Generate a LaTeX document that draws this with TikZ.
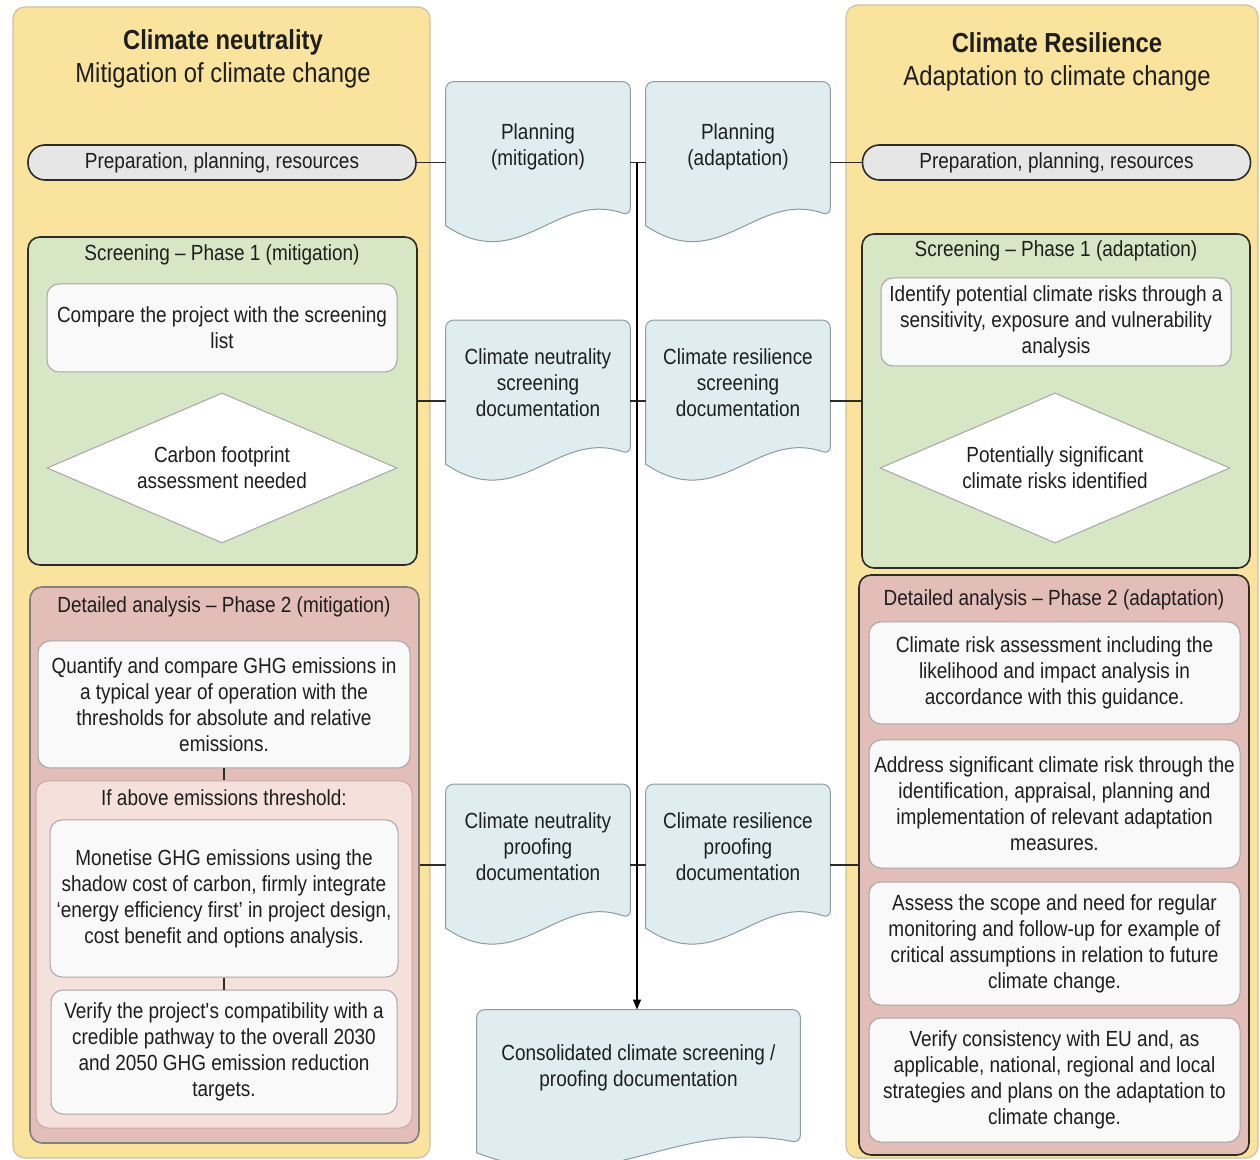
\documentclass[tikz,border=0pt]{standalone}
\usepackage{fontspec}
\setmainfont{Liberation Sans}[FakeStretch=0.866]
\usetikzlibrary{shapes.geometric,arrows.meta,calc,backgrounds}
\definecolor{panelyellow}{HTML}{F9E39D}
\definecolor{panelline}{HTML}{CBC2A2}
\definecolor{prepgray}{HTML}{E6E6E6}
\definecolor{darkline}{HTML}{2B2B2B}
\definecolor{screengreen}{HTML}{D7E6C5}
\definecolor{analysispink}{HTML}{E3BDB7}
\definecolor{subpink}{HTML}{F5E0DC}
\definecolor{subline}{HTML}{C9A9A4}
\definecolor{boxwhite}{HTML}{F9F9F9}
\definecolor{boxline}{HTML}{A6A6A6}
\definecolor{docblue}{HTML}{DFEDF1}
\definecolor{docedge}{HTML}{8E9A9E}
\definecolor{textgray}{HTML}{1E1E1E}
\begin{document}
\begin{tikzpicture}[x=0.5pt,y=-0.5pt,
    font=\fontsize{10.95}{13}\selectfont, text=textgray,
    panel/.style={draw=panelline, fill=panelyellow, rounded corners=6pt, line width=0.6pt},
    heading/.style={align=center, font=\fontsize{13.75}{16.5}\selectfont},
    prep/.style={draw=darkline, fill=prepgray, rounded corners=8.5pt, line width=0.8pt,
        minimum width=194pt, minimum height=17.5pt, inner sep=0pt},
    phaseone/.style={draw=darkline, fill=screengreen, rounded corners=6pt, line width=0.8pt},
    phasetwo/.style={draw=#1, fill=analysispink, rounded corners=6pt, line width=0.8pt},
    subgroup/.style={draw=subline, fill=subpink, rounded corners=6pt, line width=0.5pt},
    task/.style={draw=boxline, fill=boxwhite, rounded corners=6pt, line width=0.5pt,
        align=center, inner sep=1pt},
    decision/.style={diamond, aspect=2.33, draw=boxline, fill=white, line width=0.5pt,
        minimum width=175pt, minimum height=75pt, inner sep=0pt, align=center},
    doc/.style={align=center, inner sep=0pt, text depth=18pt, minimum width=92pt, minimum height=80.5pt},
    docline/.style={draw=docedge, fill=docblue, line width=0.5pt},
    link/.style={draw=darkline, line width=0.6pt},
    flow/.style={draw=black, line width=0.6pt, -{Triangle[length=5pt,width=4pt]}}]
\useasboundingbox (0,0) rectangle (1260,1160);
\node[panel, minimum width=208.5pt, minimum height=575.5pt] (lpanel) at (221.5,582.5) {};
\node[panel, minimum width=206pt, minimum height=576.5pt] (rpanel) at (1052,581.5) {};
\node[heading] (lhead) at (223,58.5) {\textbf{Climate neutrality}\\Mitigation of climate change};
\node[heading] (rhead) at (1057,62) {\textbf{Climate Resilience}\\Adaptation to climate change};
\node[prep] (lprep) at (222,162.5) {Preparation, planning, resources};
\node[prep] (rprep) at (1056.5,162.5) {Preparation, planning, resources};

\node[phaseone, minimum width=194.5pt, minimum height=164pt] (lscr) at (222.5,401) {};
\node (lscrt) at (222,255) {Screening – Phase 1 (mitigation)};
\node[task, minimum width=175pt, minimum height=44pt] (lcmp) at (222,328) {Compare the project with the screening\\list};
\node[decision] (ldec) at (222,468) {Carbon footprint\\assessment needed};
\node[phaseone, minimum width=194pt, minimum height=167pt] (rscr) at (1056,401) {};
\node (rscrt) at (1056,251) {Screening – Phase 1 (adaptation)};
\node[task, minimum width=175pt, minimum height=44pt] (rident) at (1056,322) {Identify potential climate risks through a\\sensitivity, exposure and vulnerability\\analysis};
\node[decision] (rdec) at (1055,468) {Potentially significant\\climate risks identified};

\node[phasetwo=gray, minimum width=194.5pt, minimum height=278pt] (lana) at (224.5,865) {};
\node (lanat) at (224,607) {Detailed analysis – Phase 2 (mitigation)};
\node[task, minimum width=186pt, minimum height=63.5pt] (lquant) at (224,704.5) {Quantify and compare GHG emissions in\\a typical year of operation with the\\thresholds for absolute and relative\\emissions.};
\node[subgroup, minimum width=188pt, minimum height=173.5pt] (lsub) at (224,954.5) {};
\node (lsubt) at (224,798) {If above emissions threshold:};
\node[task, minimum width=174pt, minimum height=78.5pt] (lmon) at (224,898.5) {Monetise GHG emissions using the\\shadow cost of carbon, firmly integrate\\‘energy efficiency first’ in project design,\\cost benefit and options analysis.};
\node[task, minimum width=173pt, minimum height=62pt] (lver) at (224,1052) {Verify the project\textquotesingle s compatibility with a\\credible pathway to the overall 2030\\and 2050 GHG emission reduction\\targets.};
\node[phasetwo=darkline, minimum width=195pt, minimum height=290pt] (rana) at (1054,865) {};
\node (ranat) at (1054,600) {Detailed analysis – Phase 2 (adaptation)};
\node[task, minimum width=185.5pt, minimum height=51pt] (rrisk) at (1054.5,673) {Climate risk assessment including the\\likelihood and impact analysis in\\accordance with this guidance.};
\node[task, minimum width=185.5pt, minimum height=64pt] (raddr) at (1054.5,804) {Address significant climate risk through the\\identification, appraisal, planning and\\implementation of relevant adaptation\\measures.};
\node[task, minimum width=185.5pt, minimum height=61.5pt] (rmon) at (1054.5,943.5) {Assess the scope and need for regular\\monitoring and follow-up for example of\\critical assumptions in relation to future\\climate change.};
\node[task, minimum width=185.5pt, minimum height=62pt] (rver) at (1054.5,1080) {Verify consistency with EU and, as\\applicable, national, regional and local\\strategies and plans on the adaptation to\\climate change.};

\node[doc] (planmit) at (538,162.5) {Planning\\(mitigation)};
\node[doc] (planada) at (738,162.5) {Planning\\(adaptation)};
\node[doc] (scrmit) at (538,401) {Climate neutrality\\screening\\documentation};
\node[doc] (scrada) at (738,401) {Climate resilience\\screening\\documentation};
\node[doc] (prfmit) at (538,865) {Climate neutrality\\proofing\\documentation};
\node[doc] (prfada) at (738,865) {Climate resilience\\proofing\\documentation};
\node[doc, minimum width=161.5pt, minimum height=80pt, text depth=24pt] (cons) at (638.5,1090) {Consolidated climate screening /\\proofing documentation};
\begin{scope}[on background layer]
\foreach \d in {planmit,planada,scrmit,scrada,prfmit,prfada,cons}
    \draw[docline] let \p1=(\d.north west), \p2=(\d.south east) in
        (\x1,{\y2+0.11*(\y1-\y2)}) [rounded corners=4pt] -- (\x1,\y1) -- (\x2,\y1)
        -- (\x2,{\y2+0.17*(\y1-\y2)}) [sharp corners]
        .. controls ({\x1+0.6*(\x2-\x1)},{\y2+0.33*(\y1-\y2)}) and ({\x1+0.4*(\x2-\x1)},{\y2-0.2*(\y1-\y2)}) .. cycle;
\end{scope}

\draw[link] (lprep.east) -- (planmit.west);
\draw[link] (planmit.east) -- (planada.west);
\draw[link] (planada.east) -- (rprep.west);
\draw[link] (lscr.east) -- (scrmit.west);
\draw[link] (scrmit.east) -- (scrada.west);
\draw[link] (scrada.east) -- (rscr.west);
\draw[link] (lana.east) -- (prfmit.west);
\draw[link] (prfmit.east) -- (prfada.west);
\draw[link] (prfada.east) -- (rana.west);
\draw[link] (lquant.south) -- (lsub.north);
\draw[link] (lmon.south) -- (lver.north);
\coordinate (split) at (637,162.5);
\draw[flow] (split) -- (split |- cons.north);
\end{tikzpicture}
\end{document}
